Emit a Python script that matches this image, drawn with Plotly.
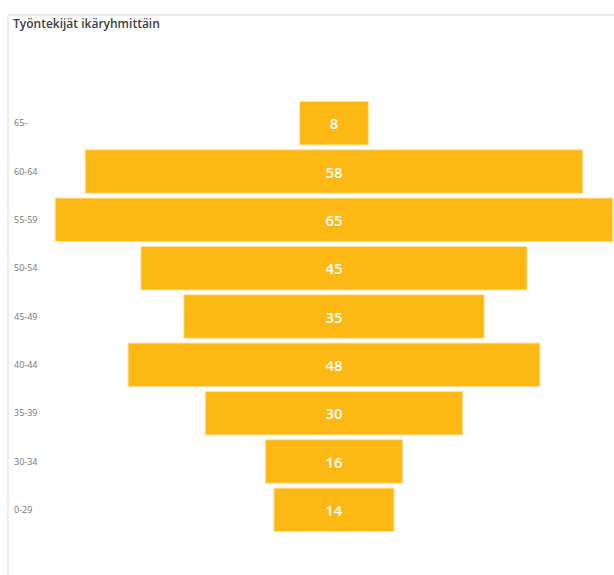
import plotly.graph_objects as go

# Employees by age group
age_groups = ["65-", "60-64", "55-59", "50-54", "45-49", "40-44", "35-39", "30-34", "0-29"]
employees = [8, 58, 65, 45, 35, 48, 30, 16, 14]

W, H = 614, 575
plot_left, plot_top, plot_bottom = 8, 99, 534
center_px, px_per_unit = 334, 8.58

fig = go.Figure(
    go.Funnel(
        y=age_groups,
        x=employees,
        orientation="h",
        textinfo="value",
        textposition="inside",
        insidetextanchor="middle",
        textfont=dict(family="Open Sans", size=15, color="white", weight=600),
        marker=dict(color="#FDB813", line=dict(color="#FEE3A0", width=1)),
        connector=dict(visible=False),
        hoverinfo="skip",
    )
)

plot_h = plot_bottom - plot_top
fig.update_layout(
    width=W,
    height=H,
    margin=dict(l=plot_left, r=0, t=plot_top, b=H - plot_bottom, pad=0),
    paper_bgcolor="white",
    plot_bgcolor="white",
    funnelgap=0.1,
    showlegend=False,
    title=dict(
        text="Työntekijät ikäryhmittäin",
        x=13 / W,
        xanchor="left",
        xref="container",
        y=1 - 24 / H,
        yanchor="middle",
        yref="container",
        font=dict(family="Open Sans", size=12, color="#404040", weight=600),
    ),
    xaxis=dict(
        range=[(plot_left - center_px) / px_per_unit, (W - center_px) / px_per_unit],
        visible=False,
        fixedrange=True,
    ),
    yaxis=dict(
        showgrid=False,
        showline=False,
        zeroline=False,
        ticks="",
        ticklabelposition="inside",
        ticklabelstandoff=3,
        tickfont=dict(family="Open Sans", size=9, color="#777777"),
        fixedrange=True,
    ),
    shapes=[
        # card frame: top and left edges
        dict(type="line", xref="paper", yref="paper",
             x0=0, x1=1,
             y0=(plot_bottom - 15) / plot_h, y1=(plot_bottom - 15) / plot_h,
             line=dict(color="#EDEDED", width=2)),
        dict(type="line", xref="paper", yref="paper",
             x0=0, x1=0,
             y0=(plot_bottom - 15) / plot_h, y1=(plot_bottom - H) / plot_h,
             line=dict(color="#EDEDED", width=2)),
    ],
)

fig.write_html("out.html", config={"displayModeBar": False})
